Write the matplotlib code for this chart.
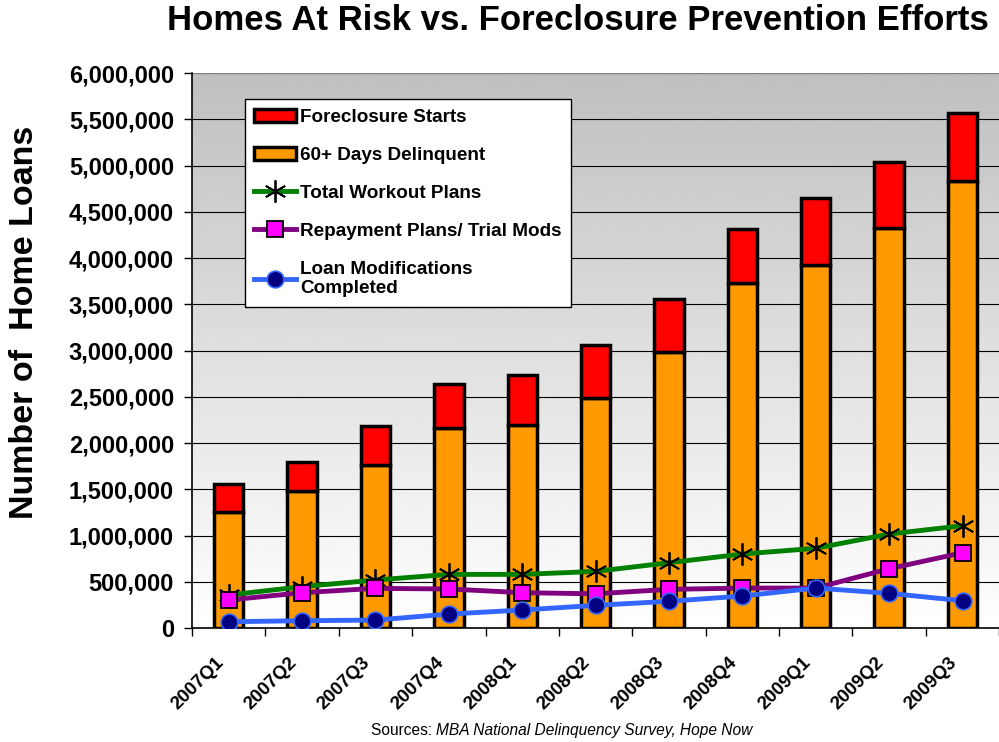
import numpy as np
import matplotlib.pyplot as plt
from matplotlib.transforms import ScaledTranslation

plt.rcParams['font.family'] = ['Liberation Sans', 'DejaVu Sans']

# Datos
quarters = ['2007Q1', '2007Q2', '2007Q3', '2007Q4', '2008Q1', '2008Q2',
            '2008Q3', '2008Q4', '2009Q1', '2009Q2', '2009Q3']
delinquent = [1254000, 1481000, 1762000, 2162000, 2195000, 2486000,
              2984000, 3730000, 3924000, 4324000, 4832000]
total_bar = [1557000, 1795000, 2184000, 2638000, 2735000, 3059000,
             3557000, 4314000, 4649000, 5038000, 5568000]
foreclosure = [t - d for t, d in zip(total_bar, delinquent)]
workout = [357000, 447000, 519000, 580000, 580000, 612000,
           706000, 800000, 862000, 1016000, 1106000]
repayment = [303000, 382000, 429000, 422000, 382000, 370000,
             418000, 432000, 432000, 641000, 814000]
loan_mods = [68000, 79000, 86000, 151000, 195000, 245000,
             289000, 346000, 432000, 375000, 295000]

fig = plt.figure(figsize=(9.99, 7.42), dpi=100)
ax = fig.add_axes([0.1922, 0.1536, 0.808, 0.748])

x = np.arange(len(quarters))
ax.set_xlim(-0.5, len(quarters) - 0.5)
ax.set_ylim(0, 6000000)

# Fondo degradado gris (arriba) -> blanco (abajo)
grad = np.linspace(0.75, 1.0, 256).reshape(-1, 1)
ax.imshow(grad, extent=[-0.5, len(quarters) - 0.5, 0, 6000000], aspect='auto',
          cmap='gray', vmin=0, vmax=1, origin='upper', zorder=0)

ax.set_yticks(np.arange(0, 6000001, 500000))
ax.yaxis.grid(True, color='black', linewidth=0.8, zorder=1)
ax.set_axisbelow(True)

# Barras apiladas
ax.bar(x, delinquent, width=0.4, color='#FF9900', edgecolor='black',
       linewidth=2.5, label='60+ Days Delinquent', zorder=2)
ax.bar(x, foreclosure, width=0.4, bottom=delinquent, color='#FF0000',
       edgecolor='black', linewidth=2.5, label='Foreclosure Starts', zorder=2)

# Líneas
ax.plot(x, workout, color='#008000', linewidth=3.5, marker=(6, 2, 0),
        markersize=16, markeredgecolor='black', markeredgewidth=1.3,
        label='Total Workout Plans', zorder=3)
ax.plot(x, repayment, color='#800080', linewidth=3.5, marker='s',
        markersize=11, markerfacecolor='#FF00FF', markeredgecolor='black',
        markeredgewidth=1.3, label='Repayment Plans/ Trial Mods', zorder=4)
ax.plot(x, loan_mods, color='#3366FF', linewidth=3.5, marker='o',
        markersize=12, markerfacecolor='#000080', markeredgecolor='#3366FF',
        markeredgewidth=1.2, label='Loan Modifications\nCompleted', zorder=5)

# Ejes y etiquetas
ax.set_xticks(np.arange(-0.5, len(quarters), 1.0))
ax.set_xticklabels([])
ax.tick_params(axis='x', length=6, width=1, direction='out')
ax.set_xticks(x, minor=True)
ax.set_xticklabels(quarters, minor=True, rotation=45, ha='right',
                   rotation_mode='anchor', fontsize=13.5, fontweight='bold')
ax.tick_params(axis='x', which='minor', length=0, pad=19)
for lbl in ax.get_xticklabels(minor=True):
    lbl.set_transform(lbl.get_transform() +
                      ScaledTranslation(-10 / 72, 0, fig.dpi_scale_trans))
ax.tick_params(axis='y', length=6, width=1, labelsize=17, pad=7)
ax.set_yticklabels([f'{int(v):,}' for v in ax.get_yticks()], fontweight='bold')

for side in ['top', 'right']:
    ax.spines[side].set_visible(False)
ax.spines['left'].set_linewidth(1.2)
ax.spines['bottom'].set_linewidth(1.2)
ax.axhline(6000000, color='#808080', linewidth=1.5, zorder=1)

fig.text(0.025, 0.566, 'Number of  Home Loans', rotation=90, ha='center',
         va='center', fontsize=24.5, fontweight='bold')
fig.text(0.578, 0.972, 'Homes At Risk vs. Foreclosure Prevention Efforts',
         ha='center', va='center', fontsize=25, fontweight='bold')
fig.text(0.4365, 0.016, 'Sources: ', ha='right', va='center', fontsize=11.2)
fig.text(0.4365, 0.016, 'MBA National Delinquency Survey, Hope Now', ha='left',
         va='center', fontsize=11.2, style='italic')

handles, labels = ax.get_legend_handles_labels()
order = [4, 3, 0, 1, 2]
leg = ax.legend([handles[i] for i in order], [labels[i] for i in order],
                loc='upper left', bbox_to_anchor=(0.0657, 0.953),
                borderaxespad=0, prop={'weight': 'bold', 'size': 13.6},
                frameon=True, fancybox=False, edgecolor='black', framealpha=1,
                handlelength=2.2, labelspacing=1.1, handletextpad=0.2,
                borderpad=0.5)
leg.get_frame().set_linewidth(1.0)
leg.set_zorder(10)

fig.savefig('out.png', dpi=100)
